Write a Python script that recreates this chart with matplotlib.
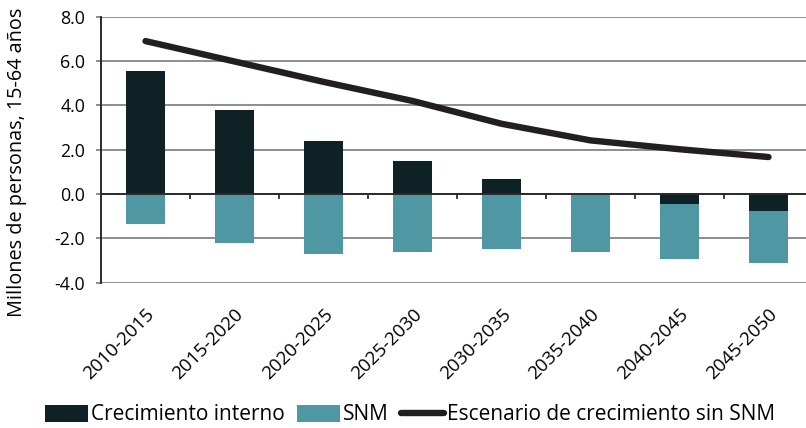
#!/usr/bin/env python3
import matplotlib
matplotlib.use("Agg")
import matplotlib.pyplot as plt
import numpy as np
from matplotlib.patches import Patch
from matplotlib.lines import Line2D

OUTPUT_FILE = "out.png"

periods = ["2010-2015", "2015-2020", "2020-2025", "2025-2030",
           "2030-2035", "2035-2040", "2040-2045", "2045-2050"]
crecimiento_interno = [5.53, 3.78, 2.38, 1.47, 0.66, 0.0, -0.46, -0.78]
snm = [-1.35, -2.22, -2.71, -2.62, -2.48, -2.62, -2.47, -2.35]
escenario_sin_snm = [6.90, 5.98, 5.06, 4.20, 3.17, 2.42, 2.02, 1.67]

DARK = "#0e2226"
TEAL = "#4e97a3"
LINE = "#231f20"
GRID = "#858585"


def plot_chart():
    plt.rcParams["font.family"] = ["Open Sans", "DejaVu Sans"]
    fig = plt.figure(figsize=(8.06, 4.28), dpi=100)
    # plot area in pixels: left 101, right ~813, top 16.7, bottom 282.7
    ax = fig.add_axes([101 / 806, 1 - 282.7 / 428, 712 / 806, 266 / 428])

    x = np.arange(len(periods))
    interno = np.array(crecimiento_interno)
    neg = np.array(snm)
    # SNM stacks below any negative internal growth
    base = np.minimum(interno, 0)

    ax.bar(x, interno, width=0.43, color=DARK, zorder=3)
    ax.bar(x, neg, width=0.43, bottom=base, color=TEAL, zorder=3)
    ax.plot(x, escenario_sin_snm, color=LINE, lw=4.6,
            solid_capstyle="round", solid_joinstyle="round", zorder=4)

    ax.set_xlim(-0.5, 7.5)
    ax.set_ylim(-4, 8)
    yt = np.arange(-4, 8.1, 2)
    ax.set_yticks(yt)
    ax.set_yticklabels([f"{v:.1f}" for v in yt], fontsize=12.8)
    ax.yaxis.grid(True, color=GRID, lw=1.3, zorder=0)
    ax.tick_params(axis="y", length=3.5, width=1.3, color=GRID, pad=8)

    ax.axhline(0, color="#2b2b2b", lw=1.4, zorder=5)
    for xb in np.arange(0.5, 7.5, 1.0):
        ax.plot([xb, xb], [0, -0.17], color="#2b2b2b", lw=1.3, zorder=5)

    ax.set_xticks(x)
    ax.set_xticklabels(periods, rotation=45, ha="right",
                       rotation_mode="anchor", fontsize=13.5)
    ax.tick_params(axis="x", length=0, pad=16)

    for side in ["top", "right", "bottom"]:
        ax.spines[side].set_visible(False)
    ax.spines["left"].set_color("#2b2b2b")
    ax.spines["left"].set_linewidth(1.4)

    ax.set_ylabel("Millones de personas, 15-64 años", fontsize=14.3)
    ax.yaxis.set_label_coords(-0.104, 0.452)

    handles = [
        Patch(facecolor=DARK, edgecolor="none"),
        Patch(facecolor=TEAL, edgecolor="none"),
        Line2D([0], [0], color=LINE, lw=4.6, solid_capstyle="round"),
    ]
    labels = ["Crecimiento interno", "SNM", "Escenario de crecimiento sin SNM"]
    fig.legend(handles, labels, loc="center", bbox_to_anchor=(410 / 806, 1 - 415 / 428),
               ncol=3, frameon=False, fontsize=15, handlelength=2.05,
               handleheight=0.85, handletextpad=0.15, columnspacing=0.6,
               borderpad=0, borderaxespad=0)

    fig.savefig(OUTPUT_FILE, dpi=100)
    print(f"Plot saved to {OUTPUT_FILE}")


if __name__ == "__main__":
    plot_chart()
